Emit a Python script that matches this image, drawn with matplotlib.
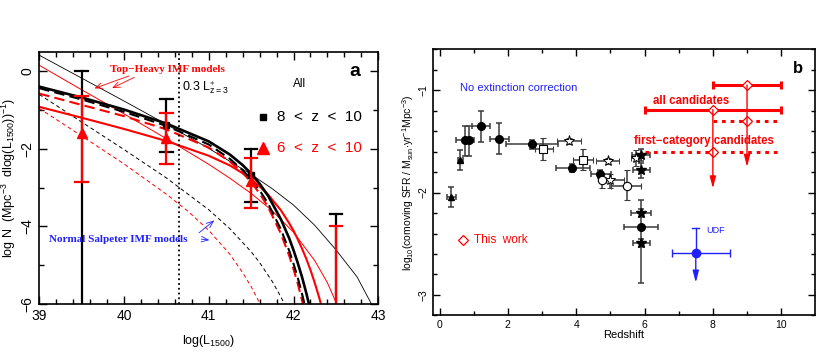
import matplotlib
matplotlib.use("Agg")
import matplotlib.pyplot as plt
import numpy as np

plt.rcParams['font.family'] = ['Liberation Sans', 'DejaVu Sans']
plt.rcParams['mathtext.fontset'] = 'custom'
plt.rcParams['mathtext.rm'] = 'Liberation Sans'
plt.rcParams['mathtext.it'] = 'Liberation Sans'

# ---------------- Panel a data ----------------
# Top-heavy IMF models
th_blk_x = [39, 39.5, 40, 40.5, 41, 41.25, 41.4, 41.5, 41.6, 41.7, 41.85, 41.95, 42, 42.05, 42.1, 42.15, 42.2]
th_blk_y = [-0.40, -0.68, -0.99, -1.35, -1.81, -2.15, -2.42, -2.64, -2.90, -3.21, -3.81, -4.31, -4.61, -4.94, -5.30, -5.71, -6.16]
th_blkd_x = [39, 39.5, 40, 40.5, 41, 41.25, 41.4, 41.5, 41.6, 41.7, 41.85, 41.95, 42, 42.05, 42.1, 42.15]
th_blkd_y = [-0.44, -0.73, -1.05, -1.41, -1.89, -2.26, -2.55, -2.79, -3.07, -3.41, -4.07, -4.63, -4.96, -5.32, -5.73, -6.18]
th_redd_x = [39, 39.5, 40, 40.5, 41, 41.25, 41.4, 41.5, 41.6, 41.7, 41.85, 41.95, 42, 42.05, 42.1, 42.12]
th_redd_y = [-0.58, -0.87, -1.16, -1.50, -1.97, -2.33, -2.62, -2.86, -3.15, -3.50, -4.18, -4.76, -5.10, -5.47, -5.90, -6.08]
th_red_x = [39, 39.5, 40, 40.5, 41, 41.25, 41.4, 41.5, 41.6, 41.7, 41.85, 41.95, 42, 42.05, 42.1, 42.15, 42.2, 42.25, 42.3, 42.35]
th_red_y = [-0.92, -1.20, -1.49, -1.80, -2.18, -2.43, -2.63, -2.78, -2.97, -3.18, -3.58, -3.92, -4.11, -4.33, -4.57, -4.83, -5.12, -5.45, -5.81, -6.21]
th_redthin_x = [39, 39.5, 40, 40.5, 41, 41.25, 41.5, 41.75, 42, 42.25, 42.4, 42.5, 42.52]
th_redthin_y = [0.15, -0.48, -1.10, -1.74, -2.40, -2.76, -3.15, -3.60, -4.15, -4.88, -5.45, -5.95, -6.06]
th_blkthin_x = [39, 39.5, 40, 40.5, 41, 41.5, 41.75, 42, 42.25, 42.5, 42.75, 42.92, 42.96]
th_blkthin_y = [0.41, -0.18, -0.77, -1.37, -1.99, -2.66, -3.03, -3.45, -3.97, -4.60, -5.30, -6.00, -6.20]
# Normal Salpeter IMF models
sp_blk_x = [39, 39.5, 40, 40.5, 41, 41.25, 41.5, 41.6, 41.75, 41.85, 41.9, 41.95]
sp_blk_y = [-0.60, -1.31, -2.02, -2.75, -3.57, -4.06, -4.65, -4.93, -5.42, -5.81, -6.03, -6.27]
sp_red_x = [39, 39.5, 40, 40.5, 40.75, 41, 41.25, 41.4, 41.5, 41.6, 41.65]
sp_red_y = [-0.96, -1.67, -2.39, -3.17, -3.60, -4.10, -4.72, -5.19, -5.55, -5.97, -6.21]

# Observed points
obs_x = [39.5, 40.5, 41.5, 42.5]
z810_y = [None, -1.38, -2.67, None]
z810_top = [0.0, -0.72, -2.00, -3.67]
z810_bot = [-7.0, -2.08, -3.38, -7.0]
z610_y = [-1.60, -1.73, -2.84, None]
z610_top = [-0.64, -1.07, -2.24, -4.00]
z610_bot = [-2.85, -2.39, -3.52, -7.0]
lstar_x = 40.65

# ---------------- Panel b data ----------------
fc_z = [0.75, 0.87, 1.22, 1.74, 2.71, 3.88, 4.70, 5.90]
fc_y = [-1.49, -1.49, -1.35, -1.48, -1.53, -1.76, -1.82, -2.34]
fc_xlo = [0.26, 0.05, 0.26, 0.26, 0.76, 0.47, 0.26, 0.49]
fc_xhi = [0.27, 0.05, 0.26, 0.29, 0.75, 0.51, 0.32, 0.49]
fc_ylo = [0.15, 0.15, 0.16, 0.14, 0.04, 0.04, 0.04, 0.54]
fc_yhi = [0.14, 0.14, 0.15, 0.16, 0.04, 0.04, 0.04, 0.27]

ft_z = [0.34, 0.61]
ft_y = [-2.04, -1.68]
ft_xe = [0.13, 0.08]
ft_ylo = [0.10, 0.10]
ft_yhi = [0.09, 0.10]

os_z = [3.04, 4.19]
os_y = [-1.57, -1.68]
os_xlo = [0.26, 0.29]
os_xhi = [0.28, 0.30]
os_ylo = [0.11, 0.10]
os_yhi = [0.10, 0.11]

ost_z = [3.79, 4.93, 5.74, 5.00]
ost_y = [-1.50, -1.69, -1.66, -1.88]
ost_xlo = [0.35, 0.34, 0.15, 0.12]
ost_xhi = [0.36, 0.32, 0.15, 0.41]
ost_ylo = [0.03, 0.03, 0.08, 0.08]
ost_yhi = [0.03, 0.03, 0.08, 0.06]

fst_z = [5.90, 5.90, 5.90, 5.90]
fst_y = [-1.63, -1.78, -2.20, -2.49]
fst_xlo = [0.26, 0.25, 0.29, 0.24]
fst_xhi = [0.25, 0.25, 0.30, 0.25]
fst_ylo = [0.06, 0.08, 0.04, 0.04]
fst_yhi = [0.06, 0.07, 0.04, 0.04]

oc_z = [4.75, 5.49]
oc_y = [-1.88, -1.94]
oc_xlo = [0.05, 0.47]
oc_xhi = [0.05, 0.41]
oc_ylo = [0.08, 0.13]
oc_yhi = [0.06, 0.16]

# This work
all_z = [8, 9]
all_y = [-1.19, -0.95]
all_zlo = [2, 1]
all_zhi = [2, 1]
all_lim = [-1.96, -1.75]
first_z = [8, 9]
first_y = [-1.60, -1.30]
first_zlo = [2, 1]
first_zhi = [2, 1]

# UDF
udf_z = [7.5]
udf_y = [-2.59]
udf_zlo = [0.7]
udf_zhi = [1.0]
udf_top = [-2.35]
udf_lim = [-2.88]

RED = '#ff0000'
BLUE = '#2020ff'
GREY = '#3a3a3a'

fig = plt.figure(figsize=(8.17, 3.54), dpi=100)
ax = fig.add_axes([0.048, 0.141, 0.415, 0.713])
bx = fig.add_axes([0.5296, 0.109, 0.4684, 0.752])

# ---------------- Panel a ----------------
ax.plot(sp_blk_x, sp_blk_y, color='k', lw=0.7, ls=(0, (4, 3)))
ax.plot(sp_red_x, sp_red_y, color=RED, lw=0.7, ls=(0, (4, 3)))
ax.plot(th_blkthin_x, th_blkthin_y, color='k', lw=0.6)
ax.plot(th_redthin_x, th_redthin_y, color=RED, lw=0.7)
ax.plot(th_red_x, th_red_y, color=RED, lw=1.5)
ax.plot(th_redd_x, th_redd_y, color=RED, lw=1.5, ls=(0, (5, 2.5)))
ax.plot(th_blkd_x, th_blkd_y, color='k', lw=1.5, ls=(0, (5, 2.5)))
ax.plot(th_blk_x, th_blk_y, color='k', lw=1.9)
ax.axvline(lstar_x, color='k', ls=':', lw=1.3)

for x, y, t, b in zip(obs_x, z810_y, z810_top, z810_bot):
    ax.plot([x, x], [t, b], color='k', lw=1.6, clip_on=True)
    ax.plot([x - 0.075, x + 0.075], [t, t], color='k', lw=1.6)
    if b > -6:
        ax.plot([x - 0.075, x + 0.075], [b, b], color='k', lw=1.6)
    if y is not None:
        ax.plot([x], [y], marker='s', color='k', ms=4, ls='none')
for x, y, t, b in zip(obs_x, z610_y, z610_top, z610_bot):
    ax.plot([x, x], [t, b], color=RED, lw=1.6)
    ax.plot([x - 0.075, x + 0.075], [t, t], color=RED, lw=1.6)
    if b > -6:
        ax.plot([x - 0.075, x + 0.075], [b, b], color=RED, lw=1.6)
    if y is not None:
        ax.plot([x], [y], marker='^', color=RED, ms=7, ls='none')

ax.set_xlim(39, 43)
ax.set_ylim(-6, 0.5)
ax.set_xticks([39, 40, 41, 42, 43])
ax.set_xticks(np.arange(39, 43.01, 0.2), minor=True)
ax.set_yticks([0, -2, -4, -6])
ax.set_yticklabels(['0', '\u22122', '\u22124', '\u22126'], rotation=90, va='center')
ax.set_yticks([-1, -3, -5], minor=True)
ax.tick_params(which='both', direction='in', top=True, right=True, width=1.0)
ax.tick_params(which='major', length=6, labelsize=10)
ax.tick_params(which='minor', length=3.5)
for s in ax.spines.values():
    s.set_linewidth(1.2)
ax.set_xlabel(r'log(L$_{1500}$)', fontsize=9, labelpad=7)
ax.set_ylabel(r'log N  (Mpc$^{-3}$  dlog(L$_{1500}$))$^{-1}$)', fontsize=9, labelpad=2)

ax.text(40.51, 0.03, 'Top\u2212Heavy IMF models', color=RED, fontsize=8,
        family=['Liberation Serif'], weight='bold', ha='center', va='center')
ax.annotate('', xy=(39.62, -0.47), xytext=(40.09, -0.10),
            arrowprops=dict(arrowstyle='->,head_length=0.5,head_width=0.2', color=RED, lw=0.6))
ax.annotate('', xy=(39.83, -0.47), xytext=(40.15, -0.13),
            arrowprops=dict(arrowstyle='->,head_length=0.5,head_width=0.2', color=RED, lw=0.6))
ax.text(39.12, -4.33, 'Normal Salpeter IMF models', color=BLUE, fontsize=8,
        family=['Liberation Serif'], weight='bold', ha='left', va='center')
ax.annotate('', xy=(41.09, -3.80), xytext=(40.86, -4.21),
            arrowprops=dict(arrowstyle='->,head_length=0.5,head_width=0.2', color=BLUE, lw=0.6))
ax.annotate('', xy=(41.04, -4.36), xytext=(40.88, -4.32),
            arrowprops=dict(arrowstyle='->,head_length=0.5,head_width=0.2', color=BLUE, lw=0.6))
ax.text(40.69, -0.44, r'0.3 L$^{\ast}_{z=3}$', fontsize=9, ha='left', va='center')
ax.text(42.07, -0.32, 'All', fontsize=8.5, ha='center', va='center')
ax.text(42.72, 0.0, 'a', fontsize=14, weight='bold', ha='center', va='center')
ax.plot([41.64], [-1.19], marker='s', color='k', ms=4.5)
ax.text(41.80, -1.19, '8  <  z  <  10', fontsize=11, ha='left', va='center')
ax.plot([41.64], [-1.98], marker='^', color=RED, ms=8)
ax.text(41.80, -1.98, '6  <  z  <  10', fontsize=11, ha='left', va='center', color=RED)

# ---------------- Panel b ----------------
ekw = dict(ls='none', ecolor=GREY, elinewidth=1.1, capsize=2.2, capthick=1.1)
bx.errorbar(ft_z, ft_y, xerr=[ft_xe, ft_xe], yerr=[ft_ylo, ft_yhi], marker='^', ms=5,
            mfc='k', mec='k', **ekw)
bx.errorbar(fc_z, fc_y, xerr=[fc_xlo, fc_xhi], yerr=[fc_ylo, fc_yhi], marker='o', ms=5.5,
            mfc='k', mec='k', **ekw)
bx.errorbar(os_z, os_y, xerr=[os_xlo, os_xhi], yerr=[os_ylo, os_yhi], marker='s', ms=5.5,
            mfc='white', mec='k', mew=0.8, **ekw)
bx.errorbar(ost_z, ost_y, xerr=[ost_xlo, ost_xhi], yerr=[ost_ylo, ost_yhi], marker='*', ms=8,
            mfc='white', mec='k', mew=0.7, **ekw)
bx.errorbar(oc_z, oc_y, xerr=[oc_xlo, oc_xhi], yerr=[oc_ylo, oc_yhi], marker='o', ms=6,
            mfc='white', mec='k', mew=0.8, **ekw)
bx.errorbar(fst_z, fst_y, xerr=[fst_xlo, fst_xhi], yerr=[fst_ylo, fst_yhi], marker='*', ms=7,
            mfc='k', mec='k', **ekw)
bx.plot(fc_z[-1:], fc_y[-1:], 'o', color='k', ms=4)

# This work
for z, y, lim in zip(all_z, all_y, all_lim):
    bx.annotate('', xy=(z, lim), xytext=(z, y),
                arrowprops=dict(arrowstyle='-|>,head_length=0.7,head_width=0.18', color=RED, lw=1.0,
                                shrinkA=0, shrinkB=0))
bx.errorbar(all_z, all_y, xerr=[all_zlo, all_zhi], ls='none', ecolor=RED, elinewidth=2.2,
            capsize=3, capthick=2.2)
eb = bx.errorbar(first_z, first_y, xerr=[first_zlo, first_zhi], ls='none', ecolor=RED,
                 elinewidth=2.2, capsize=0)
eb[2][0].set_linestyle((0, (1.2, 1.6)))
bx.plot(all_z + first_z, all_y + first_y, 'D', ms=5.5, mfc='white', mec=RED, mew=0.9, ls='none')

# UDF
bx.annotate('', xy=(udf_z[0], udf_lim[0]), xytext=(udf_z[0], udf_y[0]),
            arrowprops=dict(arrowstyle='-|>,head_length=0.7,head_width=0.18', color=BLUE, lw=1.0,
                            shrinkA=0, shrinkB=0))
bx.plot([udf_z[0], udf_z[0]], [udf_y[0], udf_top[0]], color=BLUE, lw=1.0)
bx.plot([udf_z[0] - 0.1, udf_z[0] + 0.1], [udf_top[0], udf_top[0]], color=BLUE, lw=1.0)
bx.errorbar(udf_z, udf_y, xerr=[udf_zlo, udf_zhi], ls='none', marker='o', ms=6, color=BLUE,
            ecolor=BLUE, elinewidth=1.0, capsize=3, capthick=1.0)

bx.set_xlim(-0.2, 11)
bx.set_ylim(-3.2, -0.6)
bx.set_xticks([0, 2, 4, 6, 8, 10])
bx.set_xticks(np.arange(0, 11, 1), minor=True)
bx.set_yticks([-1, -2, -3])
bx.set_yticklabels(['\u22121', '\u22122', '\u22123'], rotation=90, va='center')
bx.set_yticks(np.arange(-3.2, -0.59, 0.2), minor=True)
bx.tick_params(which='both', direction='in', top=True, right=True, width=1.0)
bx.tick_params(which='major', length=5, labelsize=7.5, pad=3)
bx.tick_params(which='minor', length=3)
for s in bx.spines.values():
    s.set_linewidth(1.2)
bx.set_xlabel('Redshift', fontsize=8, labelpad=0)
bx.set_ylabel(r'log$_{10}$(comoving SFR / M$_{\mathrm{sun}}$$\cdot$yr$^{-1}$Mpc$^{-3}$)',
              fontsize=7.5, labelpad=2)

bx.text(0.6, -0.98, 'No extinction correction', color=BLUE, fontsize=8, ha='left', va='center')
bx.text(10.5, -0.79, 'b', fontsize=12, weight='bold', ha='center', va='center')
bx.text(7.37, -1.11, 'all candidates', color=RED, fontsize=8.3, weight='bold', ha='center', va='center')
bx.text(7.74, -1.50, 'first\u2212category candidates', color=RED, fontsize=8.3, weight='bold',
        ha='center', va='center')
bx.plot([0.7], [-2.46], 'D', ms=5, mfc='white', mec=RED, mew=0.9)
bx.text(1.0, -2.46, 'This  work', color=RED, fontsize=8.5, ha='left', va='center')
bx.text(7.8, -2.37, 'UDF', color=BLUE, fontsize=6.5, ha='left', va='center')

fig.savefig('out.png', dpi=100)
